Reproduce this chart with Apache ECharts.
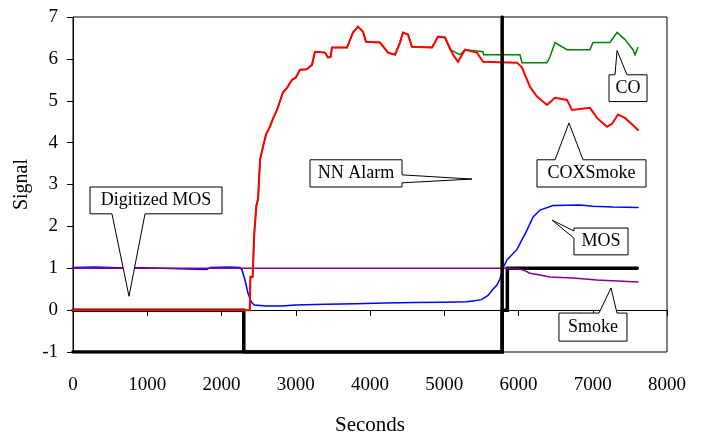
<!DOCTYPE html>
<html>
<head>
<meta charset="utf-8">
<script src="https://cdn.jsdelivr.net/npm/echarts@6/dist/echarts.min.js"></script>
<style>
  html, body { margin: 0; padding: 0; background: #fff; }
  #chart { width: 703px; height: 437px; }
</style>
</head>
<body>
<div id="chart"></div>
<script>
// values: [seconds, signal]
const coxSmoke = [
  [0, 0], [2380, 0], [2390, 0.8], [2420, 0.8], [2440, 1.8], [2470, 2.5], [2492, 2.65], [2520, 3.6],
  [2559, 3.9], [2600, 4.2], [2653, 4.38], [2700, 4.6], [2747, 4.78], [2790, 5.0], [2828, 5.2],
  [2880, 5.3], [2949, 5.5], [3000, 5.55], [3057, 5.74], [3150, 5.75], [3219, 5.86], [3240, 5.9],
  [3259, 6.17], [3394, 6.15], [3434, 6.03], [3470, 6.05], [3488, 6.27], [3690, 6.27], [3771, 6.63],
  [3838, 6.77], [3906, 6.65], [3946, 6.41], [4135, 6.39], [4242, 6.15], [4337, 6.1], [4404, 6.39],
  [4444, 6.63], [4512, 6.58], [4566, 6.29], [4835, 6.27], [4916, 6.53], [5010, 6.51], [5118, 6.1],
  [5185, 5.93], [5279, 6.22], [5441, 6.15], [5522, 5.93], [5980, 5.91], [6047, 5.79], [6155, 5.33],
  [6249, 5.1], [6384, 4.9], [6491, 5.07], [6653, 5.02], [6720, 4.78], [6963, 4.83], [7057, 4.59],
  [7192, 4.38], [7260, 4.45], [7340, 4.67], [7434, 4.59], [7520, 4.45], [7609, 4.3]
];
const coEarly = [
  [0, 0], [2380, 0], [2390, 0.8], [2420, 0.8], [2440, 1.8], [2470, 2.5], [2492, 2.65], [2520, 3.6],
  [2559, 3.9], [2600, 4.2], [2653, 4.38], [2700, 4.6], [2747, 4.78], [2790, 5.0], [2828, 5.2],
  [2880, 5.3], [2949, 5.5], [3000, 5.55], [3057, 5.74], [3150, 5.75], [3219, 5.86], [3240, 5.9],
  [3259, 6.17], [3394, 6.15], [3434, 6.03], [3470, 6.05], [3488, 6.27], [3690, 6.27], [3771, 6.63],
  [3838, 6.77], [3906, 6.65], [3946, 6.41], [4135, 6.39], [4242, 6.15], [4337, 6.1], [4404, 6.39],
  [4444, 6.63], [4512, 6.58], [4566, 6.29], [4835, 6.27], [4916, 6.53], [5010, 6.51]
];
const coLate = [
  [5077, 6.22], [5212, 6.1], [5279, 6.22], [5522, 6.17], [5530, 6.1], [6020, 6.1], [6047, 5.91],
  [6384, 5.91], [6424, 6.05], [6491, 6.39], [6653, 6.22], [6963, 6.22], [7003, 6.39], [7232, 6.39],
  [7326, 6.63], [7434, 6.46], [7542, 6.22], [7569, 6.1], [7609, 6.27]
];
const co = coEarly.concat(coLate);
const mos = [
  [0, 1.02], [300, 1.03], [600, 1.01], [900, 1.01], [1200, 1.0], [1535, 0.98], [1800, 0.97],
  [1850, 1.02], [2100, 1.03], [2249, 1.02], [2276, 0.96], [2316, 0.72], [2357, 0.4], [2400, 0.2],
  [2440, 0.12], [2600, 0.1], [2800, 0.1], [3000, 0.12], [3400, 0.14], [3800, 0.15], [4200, 0.17],
  [4600, 0.18], [5000, 0.19], [5300, 0.2], [5387, 0.22], [5500, 0.25], [5590, 0.35], [5657, 0.5],
  [5710, 0.6], [5751, 0.75], [5790, 1.0], [5845, 1.2], [5980, 1.45], [6114, 1.91], [6195, 2.22],
  [6289, 2.39], [6465, 2.5], [6828, 2.51], [7000, 2.48], [7273, 2.46], [7609, 2.45]
];
const smoke = [
  [0, 1.0], [3280, 1.0], [3290, 1.04], [3300, 1.0], [5886, 1.0], [5980, 0.99], [6061, 0.96],
  [6155, 0.88], [6289, 0.84], [6424, 0.79], [6734, 0.77], [7057, 0.72], [7609, 0.67]
];
const digitizedMos = [
  [0, 0], [2300, 0], [2300, -1], [5780, -1], [5780, 0], [5850, 0], [5850, 1], [7600, 1]
];
const nnAlarm = [[0, -1], [5780, -1], [5780, 7]];

// callout boxes (layout, in axis units)
const callouts = [
  { text: 'Digitized MOS', box: [229, 2.94, 2007, 2.30], side: 'bottom', base: [525, 970], tip: [754, 0.33] },
  { text: 'NN Alarm', box: [3192, 3.59, 4431, 2.94], side: 'right', base: [3.23, 3.04], tip: [5374, 3.13] },
  { text: 'CO', box: [7219, 5.62, 7731, 4.98], side: 'top', base: [7300, 7461], tip: [7327, 6.2] },
  { text: 'COXSmoke', box: [6249, 3.59, 7717, 2.94], side: 'top', base: [6492, 6869], tip: [6680, 4.47] },
  { text: 'MOS', box: [6747, 1.96, 7475, 1.32], side: 'left', base: [1.89, 1.72], tip: [6451, 2.15] },
  { text: 'Smoke', box: [6545, -0.07, 7461, -0.74], side: 'top', base: [7084, 7326], tip: [7246, 0.53] }
];

const serif = "'Liberation Serif', 'Times New Roman', serif";

const line = (name, data, color, width) => ({
  name: name,
  type: 'line',
  data: data,
  symbol: 'none',
  showSymbol: false,
  silent: true,
  lineStyle: { color: color, width: width, cap: 'round', join: 'miter' }
});

let myChart = echarts.init(document.getElementById('chart'));
myChart.setOption({
  animation: false,
  backgroundColor: '#fff',
  grid: {
    left: 73, right: 36, top: 17, bottom: 85,
    containLabel: false, outerBoundsMode: 'none',
    show: true, borderColor: '#000', borderWidth: 1, backgroundColor: 'transparent'
  },
  xAxis: {
    type: 'value', min: 0, max: 8000, interval: 1000,
    axisLine: { onZero: true, lineStyle: { color: '#000', width: 1 } },
    axisTick: { show: true, length: 6, lineStyle: { color: '#000' } },
    axisLabel: { margin: 24, color: '#000', fontSize: 19, fontFamily: serif, formatter: (v) => String(v) },
    splitLine: { show: false },
    name: 'Seconds', nameLocation: 'middle', nameGap: 63,
    nameTextStyle: { color: '#000', fontSize: 21, fontFamily: serif }
  },
  yAxis: {
    type: 'value', min: -1, max: 7, interval: 1,
    axisLine: { show: true, lineStyle: { color: '#000', width: 1 } },
    axisTick: { show: true, length: 6, lineStyle: { color: '#000' } },
    axisLabel: { margin: 15, color: '#000', fontSize: 19, fontFamily: serif, formatter: (v) => String(v) },
    splitLine: { show: false },
    name: 'Signal', nameLocation: 'middle', nameGap: 36, nameRotate: 90,
    nameTextStyle: { color: '#000', fontSize: 20, fontFamily: serif }
  },
  series: [
    line('Digitized MOS', digitizedMos, '#000', 3.5),
    line('MOS', mos, '#0000ff', 1.5),
    line('Smoke', smoke, '#8b008b', 1.5),
    line('CO', co, '#008000', 1.5),
    line('COXSmoke', coxSmoke, '#ff0000', 2),
    line('NN Alarm', nnAlarm, '#000', 3.5)
  ]
});

// speech-bubble callouts, placed through the axes
const px = (t, v) => myChart.convertToPixel({ gridIndex: 0 }, [t, v]);
const graphic = [];
callouts.forEach((c) => {
  const tl = px(c.box[0], c.box[1]);
  const br = px(c.box[2], c.box[3]);
  const tr = [br[0], tl[1]];
  const bl = [tl[0], br[1]];
  const tip = px(c.tip[0], c.tip[1]);
  let pts;
  if (c.side === 'bottom') {
    pts = [tl, tr, br, [px(c.base[1], 0)[0], br[1]], tip, [px(c.base[0], 0)[0], br[1]], bl];
  } else if (c.side === 'top') {
    pts = [tl, [px(c.base[0], 0)[0], tl[1]], tip, [px(c.base[1], 0)[0], tl[1]], tr, br, bl];
  } else if (c.side === 'right') {
    pts = [tl, tr, [tr[0], px(0, c.base[0])[1]], tip, [tr[0], px(0, c.base[1])[1]], br, bl];
  } else {
    pts = [tl, tr, br, bl, [tl[0], px(0, c.base[1])[1]], tip, [tl[0], px(0, c.base[0])[1]]];
  }
  graphic.push({
    type: 'polygon', z: 100, silent: true,
    shape: { points: pts },
    style: { fill: '#fff', stroke: '#000', lineWidth: 1 }
  });
  graphic.push({
    type: 'text', z: 101, silent: true,
    x: (tl[0] + br[0]) / 2, y: (tl[1] + br[1]) / 2,
    style: { text: c.text, fill: '#000', font: '18px ' + serif, align: 'center', verticalAlign: 'middle' }
  });
});
myChart.setOption({ graphic: graphic });
</script>
</body>
</html>
